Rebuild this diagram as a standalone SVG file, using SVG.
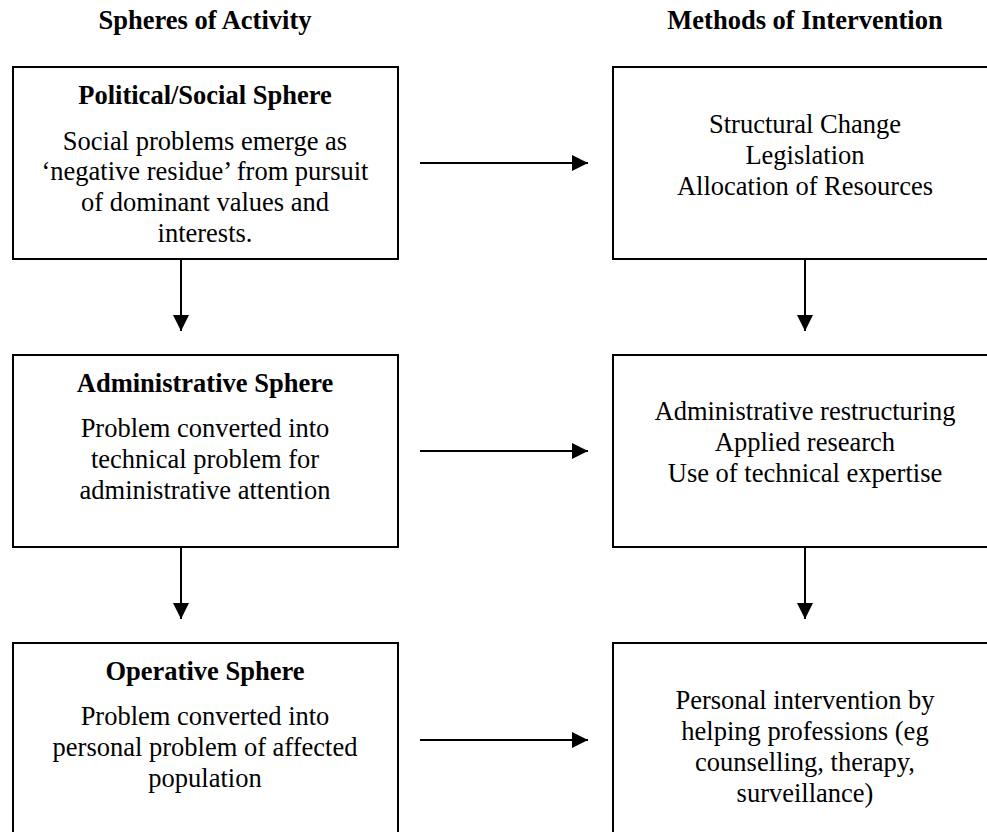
<svg xmlns="http://www.w3.org/2000/svg" width="987" height="832" viewBox="0 0 987 832">
<style>
  .box { fill: #fff; stroke: #000; stroke-width: 2; }
  .hd { font-family: "Liberation Serif", "Times New Roman", serif; font-size: 26.5px; font-weight: bold; text-anchor: middle; fill: #000; }
  .tx { font-family: "Liberation Serif", "Times New Roman", serif; font-size: 26.5px; text-anchor: middle; fill: #000; }
  .ln { stroke: #000; stroke-width: 2; fill: none; }
</style>
<defs>
  <marker id="ah" markerWidth="16" markerHeight="16" viewBox="0 0 16 16" refX="16" refY="8" orient="auto" markerUnits="userSpaceOnUse">
    <path d="M0,0 L16,8 L0,16 Z" fill="#000"/>
  </marker>
</defs>
<rect width="987" height="832" fill="#fff"/>
<g id="headers">
  <text class="hd" x="205" y="29">Spheres of Activity</text>
  <text class="hd" x="805" y="29">Methods of Intervention</text>
</g>
<g id="connectors">
  <line class="ln" x1="420" y1="163" x2="588" y2="163" marker-end="url(#ah)"/>
  <line class="ln" x1="420" y1="451" x2="588" y2="451" marker-end="url(#ah)"/>
  <line class="ln" x1="420" y1="740" x2="588" y2="740" marker-end="url(#ah)"/>
  <line class="ln" x1="181" y1="259" x2="181" y2="331" marker-end="url(#ah)"/>
  <line class="ln" x1="181" y1="547" x2="181" y2="619" marker-end="url(#ah)"/>
  <line class="ln" x1="805" y1="259" x2="805" y2="331" marker-end="url(#ah)"/>
  <line class="ln" x1="805" y1="547" x2="805" y2="619" marker-end="url(#ah)"/>
</g>
<g id="political">
  <rect class="box" x="13" y="67" width="385" height="192"/>
  <text class="hd" x="205" y="104">Political/Social Sphere</text>
  <text class="tx" x="205" y="150">Social problems emerge as</text>
  <text class="tx" x="205" y="180">‘negative residue’ from pursuit</text>
  <text class="tx" x="205" y="211">of dominant values and</text>
  <text class="tx" x="205" y="242">interests.</text>
</g>
<g id="structural">
  <rect class="box" x="613" y="67" width="385" height="192"/>
  <text class="tx" x="805" y="133">Structural Change</text>
  <text class="tx" x="805" y="164">Legislation</text>
  <text class="tx" x="805" y="195">Allocation of Resources</text>
</g>
<g id="administrative">
  <rect class="box" x="13" y="355" width="385" height="192"/>
  <text class="hd" x="205" y="392">Administrative Sphere</text>
  <text class="tx" x="205" y="437">Problem converted into</text>
  <text class="tx" x="205" y="468">technical problem for</text>
  <text class="tx" x="205" y="499">administrative attention</text>
</g>
<g id="admin-methods">
  <rect class="box" x="613" y="355" width="385" height="192"/>
  <text class="tx" x="805" y="420">Administrative restructuring</text>
  <text class="tx" x="805" y="451">Applied research</text>
  <text class="tx" x="805" y="482">Use of technical expertise</text>
</g>
<g id="operative">
  <rect class="box" x="13" y="643" width="385" height="200"/>
  <text class="hd" x="205" y="680">Operative Sphere</text>
  <text class="tx" x="205" y="725">Problem converted into</text>
  <text class="tx" x="205" y="756">personal problem of affected</text>
  <text class="tx" x="205" y="787">population</text>
</g>
<g id="personal">
  <rect class="box" x="613" y="643" width="385" height="200"/>
  <text class="tx" x="805" y="709">Personal intervention by</text>
  <text class="tx" x="805" y="740">helping professions (eg</text>
  <text class="tx" x="805" y="771">counselling, therapy,</text>
  <text class="tx" x="805" y="802">surveillance)</text>
</g>
</svg>
